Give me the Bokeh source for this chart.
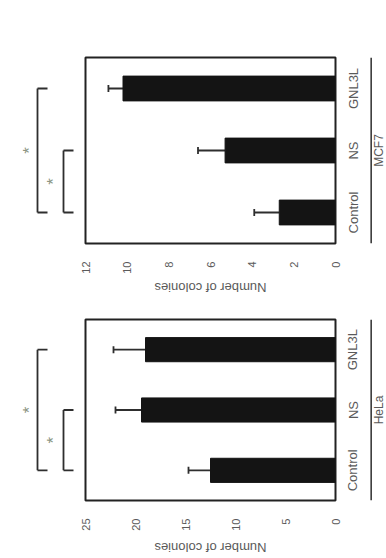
import math
from bokeh.plotting import figure
from bokeh.models import (Range1d, FactorRange, FixedTicker, Span, Spacer,
                          ColumnDataSource, Whisker, TeeHead)
from bokeh.layouts import column, row
from bokeh.embed import file_html
from bokeh.resources import INLINE
from bokeh.core.properties import value
from bokeh.transform import dodge

# ---------------- data ----------------
categories = ["Control", "NS", "GNL3L"]
mcf7_means = [2.7, 5.3, 10.2]
mcf7_errors = [1.2, 1.3, 0.7]
hela_means = [12.5, 19.4, 19.0]
hela_errors = [2.2, 2.6, 3.2]
mcf7_ticks = [0, 2, 4, 6, 8, 10, 12]
hela_ticks = [0, 5, 10, 15, 20, 25]
comparisons = [("Control", "NS"), ("Control", "GNL3L")]
sig_labels = ["*", "*"]
value_title = "Number of colonies"

# ---------------- style ----------------
FONT = "Liberation Sans"
TEXT = "#5a5a5a"
INK = "#141414"
LINE = "#2e2e2e"
STAR = "#8c9683"
BRACKET_W = 78
FRAME_W = 250
P_LEFT = 7
P_RIGHT = 7
SIDE_W = 44
SIDE_BORDER = 17
bracket_x = [63, 37]     # inner, outer bracket line positions (px units)
bracket_tick = 10
star_x = [53, 29]


def base_fig(**kw):
    f = figure(output_backend="svg", toolbar_location=None, tools="", **kw)
    f.grid.visible = False
    f.outline_line_color = None
    f.background_fill_color = "white"
    f.border_fill_color = "white"
    return f


def panel(name, means, errors, ticks, frame_h, top, bottom, title_h):
    y_range = FactorRange(factors=categories)
    x_range = Range1d(start=max(ticks), end=0)
    height = top + frame_h + bottom

    # ---- main bar chart ----
    p = figure(width=P_LEFT + FRAME_W + P_RIGHT, height=height, x_range=x_range, y_range=y_range,
               output_backend="svg", toolbar_location=None, tools="",
               min_border_left=P_LEFT, min_border_right=P_RIGHT,
               min_border_top=top, min_border_bottom=bottom,
               x_axis_location="below", y_axis_location=None)
    p.grid.visible = False
    p.outline_line_color = "#222222"
    p.outline_line_width = 2
    p.background_fill_color = "white"
    p.border_fill_color = "white"

    src = ColumnDataSource(dict(cat=categories, mean=means,
                                hi=[m + e for m, e in zip(means, errors)]))
    p.hbar(y="cat", left=0, right="mean", height=0.4, source=src,
           fill_color=INK, line_color=INK)
    p.add_layout(Whisker(source=src, base="cat", lower="mean", upper="hi",
                         dimension="width", line_color=LINE, line_width=1.8,
                         lower_head=None,
                         upper_head=TeeHead(size=7, line_color=LINE, line_width=1.8)))

    xa = p.xaxis[0]
    xa.ticker = FixedTicker(ticks=ticks)
    xa.major_label_orientation = math.pi / 2
    xa.major_tick_line_color = None
    xa.minor_tick_line_color = None
    xa.axis_line_color = None
    xa.major_label_standoff = 12
    xa.major_label_text_font = FONT
    xa.major_label_text_font_size = "11px"
    xa.major_label_text_color = TEXT

    # ---- significance brackets (left companion, shares y range) ----
    b = base_fig(width=BRACKET_W, height=height, x_range=Range1d(0, BRACKET_W),
                 y_range=y_range, min_border_left=0, min_border_right=0,
                 min_border_top=top, min_border_bottom=bottom,
                 x_axis_location=None, y_axis_location=None)
    for (a, c), bx, sx, lab in zip(comparisons, bracket_x, star_x, sig_labels):
        b.segment(x0=[bx, bx, bx], y0=[a, a, c],
                  x1=[bx, bx + bracket_tick, bx + bracket_tick], y1=[c, a, c],
                  line_color=LINE, line_width=1.8)
        ia, ic = categories.index(a), categories.index(c)
        mid = (ia + ic) / 2
        base = categories[int(mid)]
        off = mid - int(mid)
        ssrc = ColumnDataSource(dict(x=[sx], y=[base], t=[lab]))
        b.text(x="x", y=dodge("y", off, range=y_range), text="t", source=ssrc,
               angle=math.pi / 2, text_align="center", text_baseline="middle",
               text_font=value(FONT), text_font_size="17px", text_color=STAR)

    # ---- category axis + cell-line label (right companion, shares y range) ----
    r = base_fig(width=SIDE_W, height=height, x_range=Range1d(0, SIDE_W - SIDE_BORDER),
                 y_range=y_range, min_border_left=SIDE_BORDER, min_border_right=0,
                 min_border_top=top, min_border_bottom=bottom,
                 x_axis_location=None, y_axis_location="left")
    ya = r.yaxis[0]
    ya.major_label_orientation = "vertical"
    ya.axis_line_color = None
    ya.major_tick_line_color = None
    ya.major_label_standoff = 2
    ya.major_label_text_font = FONT
    ya.major_label_text_font_size = "13px"
    ya.major_label_text_color = TEXT
    r.add_layout(Span(location=4, dimension="height", line_color=LINE, line_width=1.5))
    r.text(x=[15], y=[categories[len(categories) // 2]], text=[name],
           angle=math.pi / 2, text_align="center", text_baseline="middle",
           text_font=value(FONT), text_font_size="12px", text_color=TEXT)

    # ---- value-axis title (upside down, below the chart) ----
    t = base_fig(width=FRAME_W, height=title_h, x_range=x_range, y_range=Range1d(0, 1),
                 min_border_left=0, min_border_right=0, min_border_top=0, min_border_bottom=0,
                 x_axis_location=None, y_axis_location=None)
    t.text(x=[(x_range.start + x_range.end) / 2], y=[0.5], text=[value_title],
           angle=math.pi, text_align="center", text_baseline="middle",
           text_font=value(FONT), text_font_size="13px", text_color=TEXT)

    return column(row(b, p, r), row(Spacer(width=BRACKET_W + P_LEFT, height=title_h), t))


top_panel = panel("MCF7", mcf7_means, mcf7_errors, mcf7_ticks, 193, 57, 26, 22)
bottom_panel = panel("HeLa", hela_means, hela_errors, hela_ticks, 181, 21, 38, 18)
layout = column(top_panel, bottom_panel)

open("out.html", "w").write(file_html(layout, INLINE))
